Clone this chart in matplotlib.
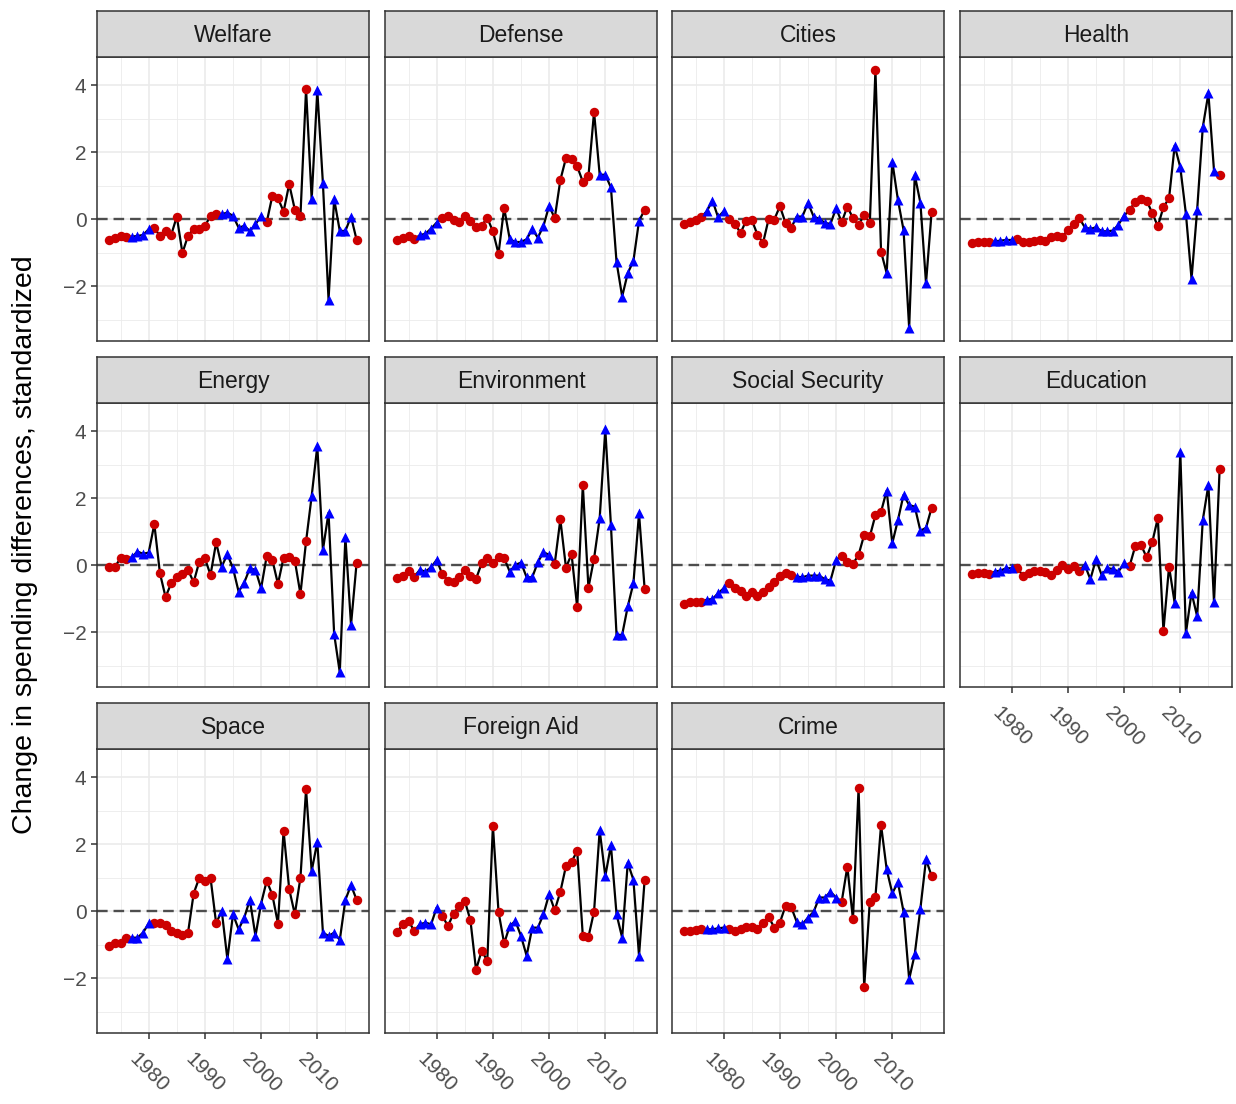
import matplotlib
matplotlib.use("Agg")
import matplotlib.pyplot as plt
import numpy as np

plt.rcParams['font.family'] = ['Liberation Sans', 'DejaVu Sans']

# survey years and party of the president in each year
years = list(range(1973, 2018))
party = ['R'] * 4 + ['D'] * 4 + ['R'] * 12 + ['D'] * 8 + ['R'] * 8 + ['D'] * 8 + ['R']

welfare = [-0.62, -0.56, -0.49, -0.52, -0.52, -0.50, -0.47, -0.30, -0.26, -0.50, -0.35, -0.47,
           0.08, -1.01, -0.49, -0.29, -0.29, -0.21, 0.11, 0.16, 0.15, 0.20, 0.10, -0.25,
           -0.20, -0.35, -0.15, 0.10, -0.09, 0.70, 0.63, 0.23, 1.05, 0.29, 0.10, 3.89,
           0.60, 3.85, 1.07, -2.40, 0.60, -0.35, -0.35, 0.08, -0.62]
defense = [-0.62, -0.57, -0.51, -0.59, -0.48, -0.43, -0.28, -0.10, 0.03, 0.11, -0.02, -0.09,
           0.11, -0.04, -0.24, -0.19, 0.04, -0.36, -1.03, 0.34, -0.60, -0.68, -0.68, -0.60,
           -0.30, -0.55, -0.20, 0.40, 0.03, 1.17, 1.83, 1.80, 1.58, 1.12, 1.28, 3.21,
           1.33, 1.33, 0.95, -1.28, -2.31, -1.61, -1.25, -0.05, 0.28]
cities = [-0.14, -0.07, -0.02, 0.06, 0.24, 0.56, 0.06, 0.24, 0.01, -0.14, -0.41, -0.04,
          -0.02, -0.46, -0.71, 0.01, -0.01, 0.39, -0.11, -0.26, 0.08, 0.08, 0.49, 0.08,
          0.01, -0.11, -0.14, 0.33, -0.09, 0.38, 0.03, -0.17, 0.13, -0.11, 4.46, -0.97,
          -1.61, 1.72, 0.58, -0.32, -3.25, 1.32, 0.49, -1.91, 0.23]
health = [-0.72, -0.69, -0.69, -0.69, -0.66, -0.64, -0.62, -0.62, -0.59, -0.67, -0.67, -0.64,
          -0.61, -0.66, -0.54, -0.51, -0.54, -0.31, -0.14, 0.04, -0.24, -0.29, -0.24, -0.36,
          -0.36, -0.34, -0.16, 0.11, 0.28, 0.53, 0.61, 0.56, 0.19, -0.21, 0.36, 0.63,
          2.20, 1.55, 0.16, -1.78, 0.28, 2.75, 3.76, 1.45, 1.33]
energy = [-0.06, -0.04, 0.21, 0.18, 0.24, 0.41, 0.34, 0.38, 1.23, -0.24, -0.95, -0.54,
          -0.36, -0.26, -0.14, -0.51, 0.11, 0.21, -0.29, 0.68, -0.04, 0.33, -0.09, -0.79,
          -0.52, -0.09, -0.14, -0.69, 0.28, 0.16, -0.56, 0.23, 0.24, 0.14, -0.86, 0.71,
          2.07, 3.56, 0.46, 1.57, -2.06, -3.20, 0.84, -1.78, 0.08]
environment = [-0.37, -0.31, -0.16, -0.34, -0.14, -0.19, -0.06, 0.16, -0.27, -0.46, -0.49, -0.36,
               -0.14, -0.32, -0.41, 0.06, 0.21, 0.06, 0.26, 0.21, -0.19, 0.01, 0.08, -0.36,
               -0.36, 0.09, 0.39, 0.31, 0.04, 1.37, -0.07, 0.33, -1.26, 2.40, -0.67, 0.20,
               1.40, 4.06, 1.20, -2.08, -2.08, -1.23, -0.54, 1.55, -0.71]
social_security = [-1.15, -1.11, -1.09, -1.09, -1.03, -1.01, -0.84, -0.69, -0.54, -0.69, -0.76, -0.92,
                   -0.81, -0.91, -0.81, -0.66, -0.49, -0.32, -0.22, -0.29, -0.34, -0.36, -0.31, -0.31,
                   -0.31, -0.42, -0.46, 0.16, 0.29, 0.11, 0.04, 0.31, 0.91, 0.86, 1.50, 1.60,
                   2.23, 0.66, 1.35, 2.10, 1.80, 1.75, 1.03, 1.12, 1.72]
education = [-0.27, -0.24, -0.22, -0.27, -0.19, -0.16, -0.09, -0.09, -0.09, -0.31, -0.24, -0.16,
             -0.17, -0.19, -0.29, -0.14, 0.00, -0.11, -0.01, -0.16, 0.01, -0.42, 0.18, -0.29,
             -0.09, -0.11, -0.19, 0.06, -0.01, 0.58, 0.61, 0.24, 0.68, 1.41, -1.96, -0.04,
             -1.13, 3.39, -2.03, -0.82, -1.53, 1.35, 2.40, -1.11, 2.88]
space = [-1.03, -0.94, -0.94, -0.79, -0.79, -0.79, -0.64, -0.36, -0.34, -0.34, -0.42, -0.59,
         -0.64, -0.71, -0.64, 0.53, 1.00, 0.89, 1.00, -0.36, 0.01, -1.43, -0.09, -0.54,
         -0.19, 0.34, -0.74, 0.23, 0.91, 0.49, -0.37, 2.40, 0.66, -0.09, 1.00, 3.64,
         1.20, 2.08, -0.64, -0.74, -0.64, -0.86, 0.34, 0.78, 0.34]
foreign_aid = [-0.62, -0.37, -0.29, -0.59, -0.39, -0.34, -0.39, 0.11, -0.14, -0.44, -0.07, 0.16,
               0.31, -0.27, -1.75, -1.18, -1.48, 2.55, -0.02, -0.96, -0.44, -0.29, -0.74, -1.33,
               -0.49, -0.49, -0.09, 0.51, 0.03, 0.58, 1.35, 1.48, 1.80, -0.74, -0.77, -0.01,
               2.42, 1.05, 1.97, -0.09, -0.79, 1.45, 0.94, -1.33, 0.94]
crime = [-0.59, -0.59, -0.57, -0.54, -0.54, -0.54, -0.51, -0.49, -0.52, -0.59, -0.54, -0.47,
         -0.47, -0.54, -0.34, -0.17, -0.49, -0.34, 0.16, 0.13, -0.32, -0.39, -0.19, -0.02,
         0.41, 0.41, 0.58, 0.41, 0.29, 1.33, -0.24, 3.68, -2.26, 0.29, 0.44, 2.58,
         1.25, 0.54, 0.86, -0.01, -2.03, -1.28, 0.08, 1.55, 1.05]

panels = [('Welfare', welfare), ('Defense', defense), ('Cities', cities), ('Health', health),
          ('Energy', energy), ('Environment', environment), ('Social Security', social_security),
          ('Education', education), ('Space', space), ('Foreign Aid', foreign_aid),
          ('Crime', crime)]

W, H = 1236, 1104
fig = plt.figure(figsize=(W / 100, H / 100), dpi=100)

col_left = [97, 385, 672, 960]
panel_w = 272
strip_top = [11, 357, 703]
strip_h = 46
panel_h = 284

yrs = np.array(years)
is_rep = np.array([p == 'R' for p in party])

for i, (name, vals) in enumerate(panels):
    r, c = divmod(i, 4)
    x0 = col_left[c]
    y_strip = strip_top[r]
    y_panel = y_strip + strip_h
    ax = fig.add_axes([x0 / W, 1 - (y_panel + panel_h) / H, panel_w / W, panel_h / H])
    sax = fig.add_axes([x0 / W, 1 - (y_strip + strip_h) / H, panel_w / W, strip_h / H])

    # strip
    sax.set_facecolor('#D9D9D9')
    sax.set_xticks([])
    sax.set_yticks([])
    for s in sax.spines.values():
        s.set_color('#333333')
        s.set_linewidth(1.1)
    sax.text(0.5, 0.47, name, ha='center', va='center', fontsize=16.5, color='#1A1A1A',
             transform=sax.transAxes)

    v = np.array(vals)
    ax.axhline(0, color='#4D4D4D', lw=1.7, ls=(0, (4.5, 2.5)), zorder=2)
    ax.plot(yrs, v, color='black', lw=1.6, zorder=3)
    ax.plot(yrs[is_rep], v[is_rep], 'o', color='#CD0000', ms=6.8, mec='none', zorder=4)
    ax.plot(yrs[~is_rep], v[~is_rep], '^', color='#0000FF', ms=7.8, mec='none', zorder=4)

    ax.set_xlim(1970.8, 2019.2)
    ax.set_ylim(-3.64, 4.85)
    ax.set_xticks([1980, 1990, 2000, 2010])
    ax.set_xticks([1975, 1985, 1995, 2005, 2015], minor=True)
    ax.set_yticks([-2, 0, 2, 4])
    ax.set_yticks([-3, -1, 1, 3], minor=True)
    ax.grid(True, which='major', color='#EBEBEB', lw=1.2, zorder=0)
    ax.grid(True, which='minor', color='#EBEBEB', lw=0.6, zorder=0)
    ax.set_axisbelow(True)
    for s in ax.spines.values():
        s.set_color('#333333')
        s.set_linewidth(1.1)
    ax.tick_params(which='minor', length=0)
    ax.tick_params(which='major', length=4.5, width=1.1, color='#333333',
                   labelcolor='#4D4D4D', labelsize=15)

    show_x = (r == 2) or (name == 'Education')
    if show_x:
        ax.set_xticklabels(['1980', '1990', '2000', '2010'], rotation=-45,
                           ha='center', va='top')
        ax.tick_params(axis='x', pad=7)
    else:
        ax.tick_params(axis='x', length=0, labelbottom=False)
    if c == 0:
        ax.set_yticklabels(['\u22122', '0', '2', '4'])
        ax.tick_params(axis='y', pad=3)
    else:
        ax.tick_params(axis='y', length=0, labelleft=False)

fig.text(25 / W, 1 - 545 / H, 'Change in spending differences, standardized',
         rotation=90, ha='center', va='center', fontsize=20.5, color='black')

fig.savefig('out.png', dpi=100)
